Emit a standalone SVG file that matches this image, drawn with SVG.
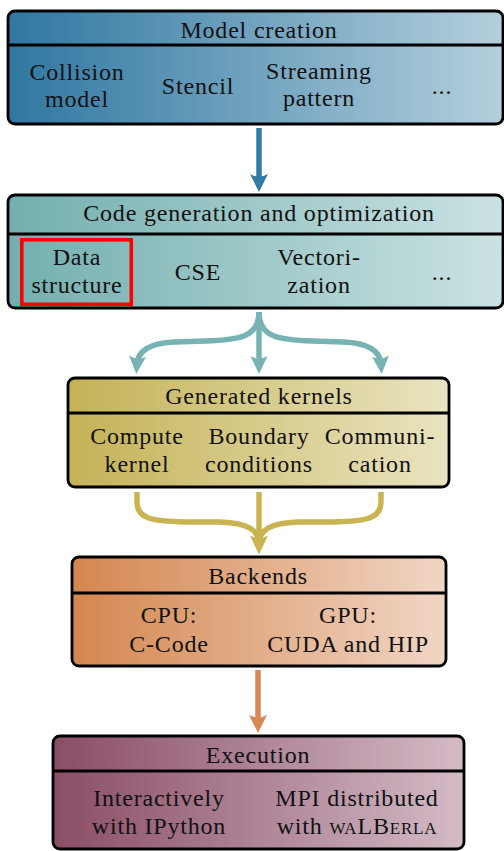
<svg xmlns="http://www.w3.org/2000/svg" width="504" height="851" viewBox="0 0 504 851">
  <style>
    text { font-family: "Liberation Serif", "Times New Roman", serif; font-size: 24px; letter-spacing: 0.8px; fill: #111; text-anchor: middle; }
    .box { stroke: #000; stroke-width: 2.8; }
    .div { stroke: #000; stroke-width: 2.8; }
    .flow { fill: none; stroke-width: 5.5; stroke-linejoin: round; }
    .sc { font-variant: small-caps; }
  </style>
  <defs>
    <linearGradient id="gBlue" x1="0" y1="0" x2="1" y2="0">
      <stop offset="0" stop-color="#2f77a1"/>
      <stop offset="1" stop-color="#b4cfdd"/>
    </linearGradient>
    <linearGradient id="gTeal" x1="0" y1="0" x2="1" y2="0">
      <stop offset="0" stop-color="#73afaf"/>
      <stop offset="1" stop-color="#cbe2e2"/>
    </linearGradient>
    <linearGradient id="gGold" x1="0" y1="0" x2="1" y2="0">
      <stop offset="0" stop-color="#c4b256"/>
      <stop offset="1" stop-color="#e9e4c1"/>
    </linearGradient>
    <linearGradient id="gOrange" x1="0" y1="0" x2="1" y2="0">
      <stop offset="0" stop-color="#d4864f"/>
      <stop offset="1" stop-color="#f1d6c5"/>
    </linearGradient>
    <linearGradient id="gPlum" x1="0" y1="0" x2="1" y2="0">
      <stop offset="0" stop-color="#8a4d66"/>
      <stop offset="1" stop-color="#d3bbc6"/>
    </linearGradient>
    <marker id="mBlue" markerUnits="userSpaceOnUse" orient="auto" refX="0" refY="0" markerWidth="1" markerHeight="1" overflow="visible">
      <path d="M10,0 L-8,-9 Q-3,0 -8,9 Z" fill="#347ba4"/>
    </marker>
    <marker id="mTeal" markerUnits="userSpaceOnUse" orient="auto" refX="0" refY="0" markerWidth="1" markerHeight="1" overflow="visible">
      <path d="M10,0 L-8,-8.5 Q-3,0 -8,8.5 Z" fill="#78b3b3"/>
    </marker>
    <marker id="mGold" markerUnits="userSpaceOnUse" orient="auto" refX="0" refY="0" markerWidth="1" markerHeight="1" overflow="visible">
      <path d="M10,0 L-8,-8.5 Q-3,0 -8,8.5 Z" fill="#c8b452"/>
    </marker>
    <marker id="mOrange" markerUnits="userSpaceOnUse" orient="auto" refX="0" refY="0" markerWidth="1" markerHeight="1" overflow="visible">
      <path d="M10,0 L-8,-9 Q-3,0 -8,9 Z" fill="#d88a56"/>
    </marker>
  </defs>

  <!-- connectors -->
  <g id="connectors">
    <path class="flow" stroke="#347ba4" d="M259,128 L259,182" marker-end="url(#mBlue)"/>
    <path class="flow" stroke="#78b3b3" d="M259,312 C259,337 240,340 205,341 L175,342 C150,343 138,350 137,364" marker-end="url(#mTeal)"/>
    <path class="flow" stroke="#78b3b3" d="M259,312 L259,364" marker-end="url(#mTeal)"/>
    <path class="flow" stroke="#78b3b3" d="M259,312 C259,337 278,340 313,341 L343,342 C368,343 380,350 381,364" marker-end="url(#mTeal)"/>
    <path class="flow" stroke="#c8b452" d="M137,492 L137,502 C137,519 152,521 185,522 L220,522 C248,523 259,530 259,544" marker-end="url(#mGold)"/>
    <path class="flow" stroke="#c8b452" d="M259,492 L259,544" marker-end="url(#mGold)"/>
    <path class="flow" stroke="#c8b452" d="M381,492 L381,502 C381,519 366,521 333,522 L298,522 C270,523 259,530 259,544" marker-end="url(#mGold)"/>
    <path class="flow" stroke="#d88a56" d="M258,670 L258,723" marker-end="url(#mOrange)"/>
  </g>

  <!-- model creation -->
  <g id="model-creation">
    <rect class="box" x="8" y="11" width="495" height="113" rx="7" fill="url(#gBlue)"/>
    <line class="div" x1="8" y1="45" x2="503" y2="45"/>
    <text x="259" y="38">Model creation</text>
    <text x="77" y="80">Collision</text>
    <text x="77" y="107">model</text>
    <text x="198" y="94">Stencil</text>
    <text x="319" y="79">Streaming</text>
    <text x="319" y="106">pattern</text>
    <text x="442" y="94">...</text>
  </g>

  <!-- code generation -->
  <g id="code-generation">
    <rect class="box" x="8" y="195" width="495" height="113" rx="7" fill="url(#gTeal)"/>
    <line class="div" x1="8" y1="234" x2="503" y2="234"/>
    <text x="259" y="221">Code generation and optimization</text>
    <rect x="21.8" y="239.8" width="109.5" height="64.5" fill="none" stroke="#ff0000" stroke-width="3.6"/>
    <text x="77" y="265">Data</text>
    <text x="77" y="293">structure</text>
    <text x="198" y="280">CSE</text>
    <text x="319" y="265">Vectori-</text>
    <text x="319" y="293">zation</text>
    <text x="442" y="280">...</text>
  </g>

  <!-- generated kernels -->
  <g id="generated-kernels">
    <rect class="box" x="68" y="378" width="381" height="109" rx="7" fill="url(#gGold)"/>
    <line class="div" x1="68" y1="413" x2="449" y2="413"/>
    <text x="259" y="404">Generated kernels</text>
    <text x="137" y="444">Compute</text>
    <text x="137" y="472">kernel</text>
    <text x="259" y="444">Boundary</text>
    <text x="259" y="472">conditions</text>
    <text x="380" y="444">Communi-</text>
    <text x="380" y="472">cation</text>
  </g>

  <!-- backends -->
  <g id="backends">
    <rect class="box" x="72" y="557" width="374" height="109" rx="7" fill="url(#gOrange)"/>
    <line class="div" x1="72" y1="593" x2="446" y2="593"/>
    <text x="258" y="584">Backends</text>
    <text x="169" y="623">CPU:</text>
    <text x="169" y="652">C-Code</text>
    <text x="348" y="623">GPU:</text>
    <text x="348" y="652">CUDA and HIP</text>
  </g>

  <!-- execution -->
  <g id="execution">
    <rect class="box" x="53" y="736" width="411" height="113" rx="7" fill="url(#gPlum)"/>
    <line class="div" x1="53" y1="771" x2="464" y2="771"/>
    <text x="258" y="763">Execution</text>
    <text x="159" y="806">Interactively</text>
    <text x="159" y="834">with IPython</text>
    <text x="357" y="806">MPI distributed</text>
    <text x="357" y="834">with <tspan class="sc">waLBerla</tspan></text>
  </g>
</svg>
